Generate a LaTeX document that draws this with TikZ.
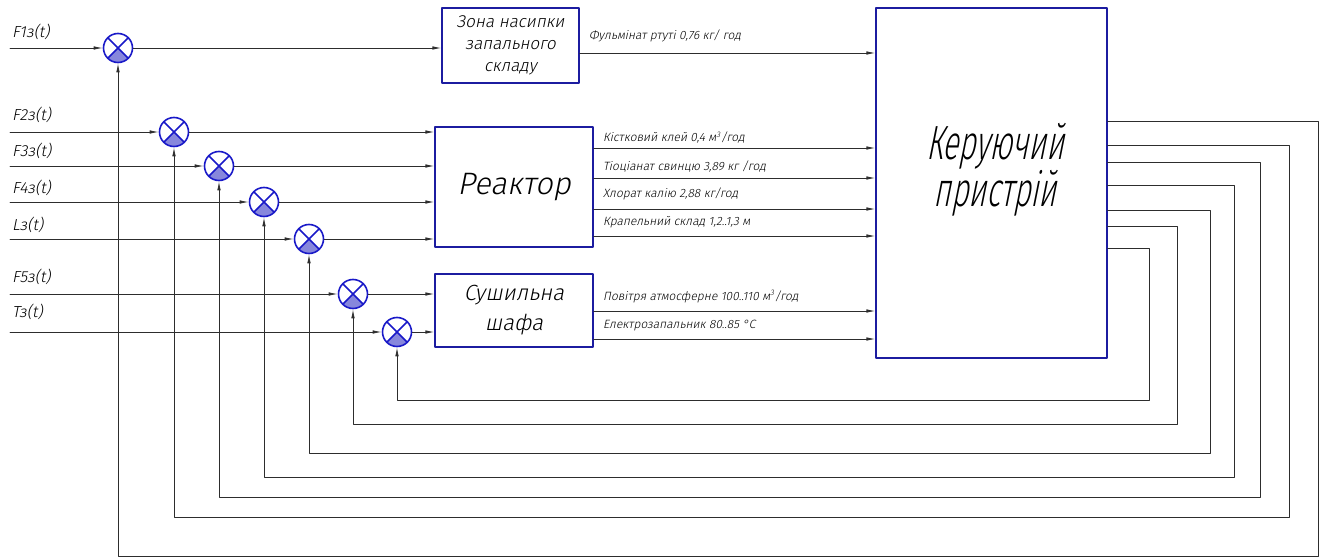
\documentclass[tikz,border=0pt]{standalone}
\usepackage{fontspec}
\usepackage{xcolor}
\usepackage{tikz}
\usetikzlibrary{arrows.meta}
\setmainfont{Fira Sans Light}
\newfontfamily\cadfont{Fira Sans Light}[FakeSlant=0.2]
\newfontfamily\cadnarrow{Fira Sans Light}[FakeSlant=0.2,FakeStretch=0.62]
\definecolor{schemeblue}{RGB}{28,28,160}
\definecolor{sumblue}{RGB}{25,25,200}
\definecolor{sumfill}{RGB}{135,135,220}
\definecolor{wiregray}{RGB}{45,45,45}

\begin{document}
\begin{tikzpicture}[x=1pt,y=-1pt,line cap=round,line join=round,
    sig/.style={draw=wiregray,line width=0.8pt,-{Latex[length=9pt,width=3.5pt]}},
    block/.style={draw=schemeblue,line width=1.3pt,inner sep=0pt,align=center},
    sum/.style={circle,draw=sumblue,line width=1.6pt,minimum size=29pt,inner sep=0pt,
      path picture={\fill[sumfill] (path picture bounding box.center) -- (path picture bounding box.south west) -- (path picture bounding box.south east) -- cycle;
        \draw[sumblue,line width=1.6pt] (path picture bounding box.south west) -- (path picture bounding box.north east)
          (path picture bounding box.north west) -- (path picture bounding box.south east);}},
    inlbl/.style={anchor=base west,inner sep=0pt,font=\cadfont\fontsize{16}{18}\selectfont},
    outlbl/.style={anchor=base west,inner sep=0pt,font=\cadfont\fontsize{12}{14}\selectfont}]
  \useasboundingbox (0,0) rectangle (1324,559);

  \node[block,minimum width=137pt,minimum height=75pt,font=\cadfont\fontsize{17}{22}\selectfont] (zone) at (510.5,45.5) {Зона насипки\\запального\\складу};
  \node[block,minimum width=158pt,minimum height=120pt,font=\cadfont\fontsize{31}{34}\selectfont] (reactor) at (514,187) {Реактор};
  \node[block,minimum width=158pt,minimum height=73pt,font=\cadfont\fontsize{22}{30}\selectfont] (dryer) at (514,310.5) {Сушильна\\шафа};
  \node[block,minimum width=231pt,minimum height=350pt] (ctrl) at (991.5,183) {};
  \node[align=center,font=\cadnarrow\fontsize{48}{34}\selectfont] (ctrllabel) at (995,170) {Керуючий\\пристрій};

  \foreach \i/\x/\y/\by/\name in {1/118/48/38/F1з(t),2/174/132/121/F2з(t),3/219/166/157/F3з(t),4/264/202/193/F4з(t),5/309/239/230/Lз(t),6/353/294/282/F5з(t),7/397/332/317/Tз(t)}{
    \node[sum] (c\i) at (\x,\y) {};
    \coordinate (in\i) at (10,\y);
    \node[inlbl] (lbl\i) at (12,\by) {\name};
    \draw[sig] (in\i) -- (c\i.west);
  }

  \draw[sig] (c1.east) -- (c1 -| zone.west);
  \foreach \i in {2,3,4,5}{\draw[sig] (c\i.east) -- (c\i -| reactor.west);}
  \foreach \i in {6,7}{\draw[sig] (c\i.east) -- (c\i -| dryer.west);}

  \foreach \src/\y/\dy/\txt in {zone/53/13/{Фульмінат ртуті 0,76 кг/ год},
      reactor/148/6/{Кістковий клей 0,4 м\textsuperscript{3}/год},
      reactor/178/8/{Тіоціанат свинцю 3,89 кг /год},
      reactor/209/12/{Хлорат калію 2,88 кг/год},
      reactor/236/11/{Крапельний склад 1,2..1,3 м},
      dryer/311/11/{Повітря атмосферне 100..110 м\textsuperscript{3}/год},
      dryer/339/11/{Електрозапальник 80..85 °C}}{
    \draw[sig] (\src.east |- 0,\y) -- (ctrl.west |- 0,\y)
      node[outlbl,pos=0,xshift=9pt,yshift=\dy pt] {\txt};
  }

  \foreach \i/\yo/\xr/\yb in {1/121/1318/556,2/145/1289/517,3/162/1260/497,4/185/1234/477,5/210/1210/453,6/226/1177/424,7/248/1149/400}{
    \draw[sig] (ctrl.east |- 0,\yo) -- (\xr,\yo) -- (\xr,\yb) -| (c\i.south);
  }
\end{tikzpicture}
\end{document}
